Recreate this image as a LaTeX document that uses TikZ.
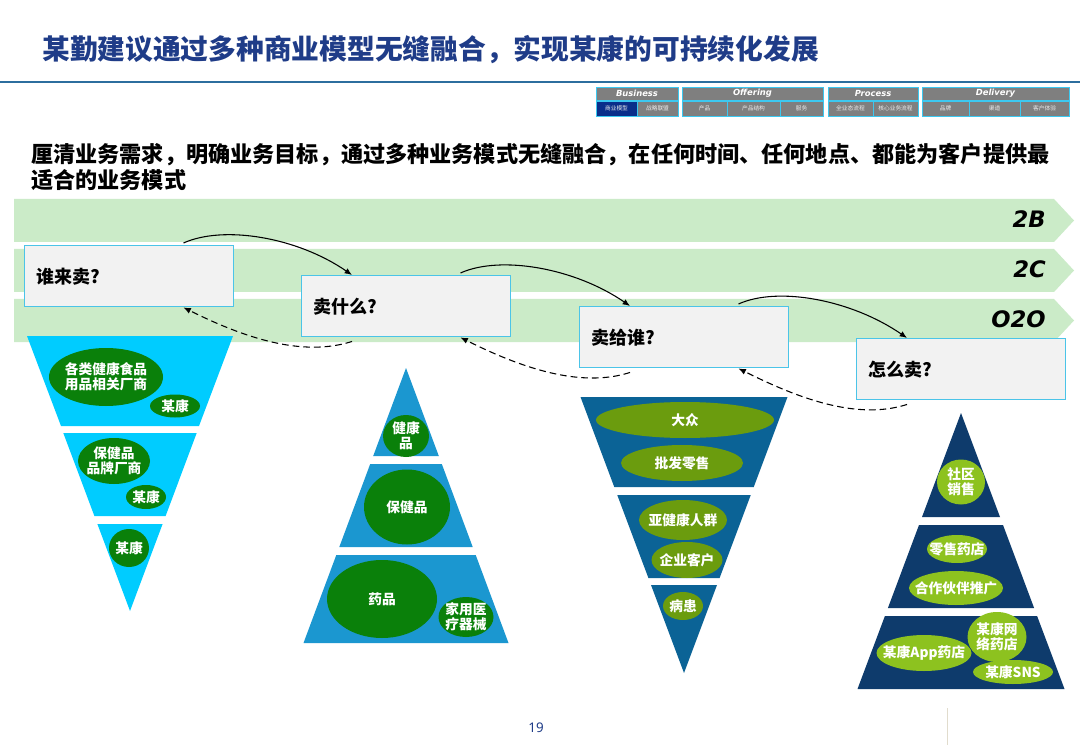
\documentclass[tikz,border=0pt]{standalone}
\usepackage{fontspec}
\setmainfont{Noto Sans CJK SC}
\newfontfamily\latf{Noto Sans}
\newfontfamily\labf{DejaVu Sans}
\usetikzlibrary{arrows.meta,shapes.geometric}
\definecolor{titleblue}{HTML}{1F3C88}
\definecolor{lineblue}{HTML}{2C6E9E}
\definecolor{bannergreen}{HTML}{CBEBC8}
\definecolor{boxfill}{HTML}{F2F2F2}
\definecolor{boxline}{HTML}{4BC4E8}
\definecolor{navgray}{HTML}{7F7F7F}
\definecolor{navline}{HTML}{3CC8F0}
\definecolor{navsel}{HTML}{0A2E8A}
\definecolor{pOne}{HTML}{00CCFF}
\definecolor{pTwo}{HTML}{1B97D0}
\definecolor{pThree}{HTML}{0B6396}
\definecolor{pFour}{HTML}{0E3B6C}
\definecolor{gDark}{HTML}{0A800A}
\definecolor{gOlive}{HTML}{6B9C0E}
\definecolor{gLime}{HTML}{8DC21F}
\definecolor{sepline}{HTML}{E1DCCD}
\newcommand\pel[7]{\fill[#6] (#2,#3) ellipse [x radius=#4*0.75pt, y radius=#5*0.75pt];
  \node[ptxt] (#1) at (#2,#3) {#7};}
\begin{document}
\begin{tikzpicture}[x=0.75pt,y=-0.75pt,
  navhead/.style={draw=navline, fill=navgray, line width=0.7pt, minimum height=13*0.75pt, inner sep=0,
     font=\labf\bfseries\itshape\fontsize{6.3}{7}\selectfont, text=white},
  navsub/.style={draw=navline, fill=navgray, line width=0.7pt, minimum height=15*0.75pt, inner sep=0,
     font=\fontsize{4.3}{5}\selectfont, text=white!85!gray},
  navpick/.style={navsub, fill=navsel},
  qbox/.style={draw=boxline, fill=boxfill, line width=1.1pt, minimum height=61*0.75pt,
     text width=209*0.75pt-18pt, inner xsep=9pt, inner ysep=0, align=left, anchor=north west,
     font=\bfseries\fontsize{13.5}{15}\selectfont},
  bannerlbl/.style={anchor=east, inner sep=0, font=\labf\bfseries\itshape\fontsize{17}{20}\selectfont},
  ptxt/.style={font=\bfseries\fontsize{10.3}{11}\selectfont, text=white, align=center, inner sep=0},
  solidarr/.style={line width=0.8pt, -{Latex[length=5.5pt,width=4.5pt]}},
  dasharr/.style={line width=0.8pt, dash pattern=on 5pt off 3pt, -{Latex[length=5.5pt,width=4.5pt]}}
]
\useasboundingbox (0,0) rectangle (1080,748);
\fill[white] (0,0) rectangle (1080,748);

% title
\node[anchor=west, inner sep=0, font=\bfseries\fontsize{20.8}{24}\selectfont, text=titleblue] (title) at (42,50)
  {某勤建议通过多种商业模型无缝融合，实现某康的可持续化发展};
\draw[lineblue, line width=2.2pt] (0,82) -- (1080,82);

% nav bar
\node[navhead, minimum width=82*0.75pt] (nbus) at (637,93.5) {Business};
\node[navhead, minimum width=141*0.75pt] (noff) at (752.5,93.5) {Offering};
\node[navhead, minimum width=90*0.75pt] (npro) at (873,93.5) {Process};
\node[navhead, minimum width=147*0.75pt] (ndel) at (995.5,93.5) {Delivery};
\node[navpick, minimum width=41*0.75pt] (s1) at (616.5,108.5) {商业模型};
\node[navsub, minimum width=41*0.75pt] (s2) at (657.5,108.5) {战略联盟};
\node[navsub, minimum width=45*0.75pt] (s3) at (704.5,108.5) {产品};
\node[navsub, minimum width=53*0.75pt] (s4) at (753.5,108.5) {产品结构};
\node[navsub, minimum width=43*0.75pt] (s5) at (801.5,108.5) {服务};
\node[navsub, minimum width=45*0.75pt] (s6) at (850.5,108.5) {全业态流程};
\node[navsub, minimum width=45*0.75pt] (s7) at (895.5,108.5) {核心业务流程};
\node[navsub, minimum width=47*0.75pt] (s8) at (945.5,108.5) {品牌};
\node[navsub, minimum width=51*0.75pt] (s9) at (994.5,108.5) {渠道};
\node[navsub, minimum width=49*0.75pt] (s10) at (1044.5,108.5) {客户体验};

% subtitle
\node[anchor=west, inner sep=0, font=\bfseries\fontsize{16.6}{18}\selectfont] (sub1) at (31,155)
  {厘清业务需求，明确业务目标，通过多种业务模式无缝融合，在任何时间、任何地点、都能为客户提供最};
\node[anchor=west, inner sep=0, font=\bfseries\fontsize{16.6}{18}\selectfont] (sub2) at (31,180)
  {适合的业务模式};

% banners
\fill[bannergreen] (14,199) -- (1054,199) -- (1074,220.5) -- (1054,242) -- (14,242) -- cycle;
\fill[bannergreen] (14,249) -- (1054,249) -- (1074,270.5) -- (1054,292) -- (14,292) -- cycle;
\fill[bannergreen] (14,299) -- (1054,299) -- (1074,320.5) -- (1054,342) -- (14,342) -- cycle;
\node[bannerlbl] (l2b) at (1046,219) {2B};
\node[bannerlbl] (l2c) at (1046,269) {2C};
\node[bannerlbl] (lo2o) at (1046,319) {O2O};

% question boxes
\node[qbox] (b1) at (24,245) {谁来卖?};
\node[qbox] (b2) at (301,275) {卖什么?};
\node[qbox] (b3) at (579,306) {卖给谁?};
\node[qbox] (b4) at (856,338) {怎么卖?};

% forward arrows
\draw[solidarr] ([xshift=-51*0.75pt, yshift=1.5pt]b1.north east) .. controls +(40,-18) and +(-55,-38) .. ([xshift=51*0.75pt]b2.north west);
\draw[solidarr] ([xshift=-51*0.75pt, yshift=1.5pt]b2.north east) .. controls +(40,-18) and +(-55,-38) .. ([xshift=51*0.75pt]b3.north west);
\draw[solidarr] ([xshift=-51*0.75pt, yshift=1.5pt]b3.north east) .. controls +(40,-18) and +(-55,-38) .. ([xshift=51*0.75pt]b4.north west);
% backward arrows
\draw[dasharr] ([xshift=51*0.75pt, yshift=-3pt]b2.south west) .. controls +(-50,16) and +(60,30) .. ([xshift=-51*0.75pt]b1.south east);
\draw[dasharr] ([xshift=51*0.75pt, yshift=-3pt]b3.south west) .. controls +(-50,16) and +(60,30) .. ([xshift=-51*0.75pt]b2.south east);
\draw[dasharr] ([xshift=51*0.75pt, yshift=-3pt]b4.south west) .. controls +(-50,16) and +(60,30) .. ([xshift=-51*0.75pt]b3.south east);

% pyramid 1 (inverted)
\fill[pOne] (27,336) -- (233,336) -- (199,426) -- (61,426) -- cycle;
\fill[pOne] (63.3,433) -- (196.7,433) -- (165.6,516) -- (94.4,516) -- cycle;
\fill[pOne] (97.4,524) -- (162.6,524) -- (130,611) -- cycle;
\pel{e11}{106}{377}{57}{29}{gDark}{各类健康食品\\用品相关厂商}
\pel{e12}{175}{406}{25}{11.5}{gDark}{某康}
\pel{e13}{114}{461}{36}{23}{gDark}{保健品\\品牌厂商}
\pel{e14}{146}{497}{20}{12}{gDark}{某康}
\pel{e15}{129}{548}{20}{19}{gDark}{某康}

% pyramid 2
\fill[pTwo] (406,368) -- (438.8,456) -- (373.2,456) -- cycle;
\fill[pTwo] (370.2,464) -- (441.8,464) -- (472.7,547) -- (339.3,547) -- cycle;
\fill[pTwo] (336.3,555) -- (475.7,555) -- (508.5,643) -- (303.5,643) -- cycle;
\pel{e21}{406}{436}{23}{21}{gDark}{健康\\品}
\pel{e22}{407}{507}{43}{37.5}{gDark}{保健品}
\pel{e23}{382}{599}{55}{39}{gDark}{药品}
\pel{e24}{466}{617}{27.5}{20}{gDark}{家用医\\疗器械}

% pyramid 3 (inverted)
\fill[pThree] (580.5,397) -- (787.5,397) -- (753.75,487) -- (614.25,487) -- cycle;
\fill[pThree] (617.25,495) -- (750.75,495) -- (719.6,578) -- (648.4,578) -- cycle;
\fill[pThree] (651,585) -- (717,585) -- (684,673) -- cycle;
\pel{e31}{685}{420}{89}{18}{gOlive}{大众}
\pel{e32}{682}{463}{61}{18}{gOlive}{批发零售}
\pel{e33}{683}{520}{44}{20}{gOlive}{亚健康人群}
\pel{e34}{687}{560}{35.5}{18}{gOlive}{企业客户}
\pel{e35}{683}{606}{20}{14}{gOlive}{病患}

% pyramid 4
\fill[pFour] (961,413) -- (1000,517) -- (922,517) -- cycle;
\fill[pFour] (919,525) -- (1003,525) -- (1034.1,608) -- (887.9,608) -- cycle;
\fill[pFour] (884.9,616) -- (1037.1,616) -- (1064.5,689) -- (857.5,689) -- cycle;
\pel{e41}{961}{482}{24}{22.5}{gLime}{社区\\销售}
\pel{e42}{957}{549}{30}{14}{gLime}{零售药店}
\pel{e43}{956}{588}{47}{17}{gLime}{合作伙伴推广}
\pel{e44}{924}{653}{47.5}{18}{gLime}{某康App药店}
\pel{e45}{997}{637}{29.5}{25}{gLime}{某康网\\络药店}
\pel{e46}{1013}{672}{40}{12}{gLime}{某康SNS}

% footer
\node[font=\latf\fontsize{10}{12}\selectfont, text=titleblue, inner sep=0] (pg) at (536,728) {19};
\draw[sepline, line width=0.6pt] (947,708) -- (947,745);
\end{tikzpicture}
\end{document}
